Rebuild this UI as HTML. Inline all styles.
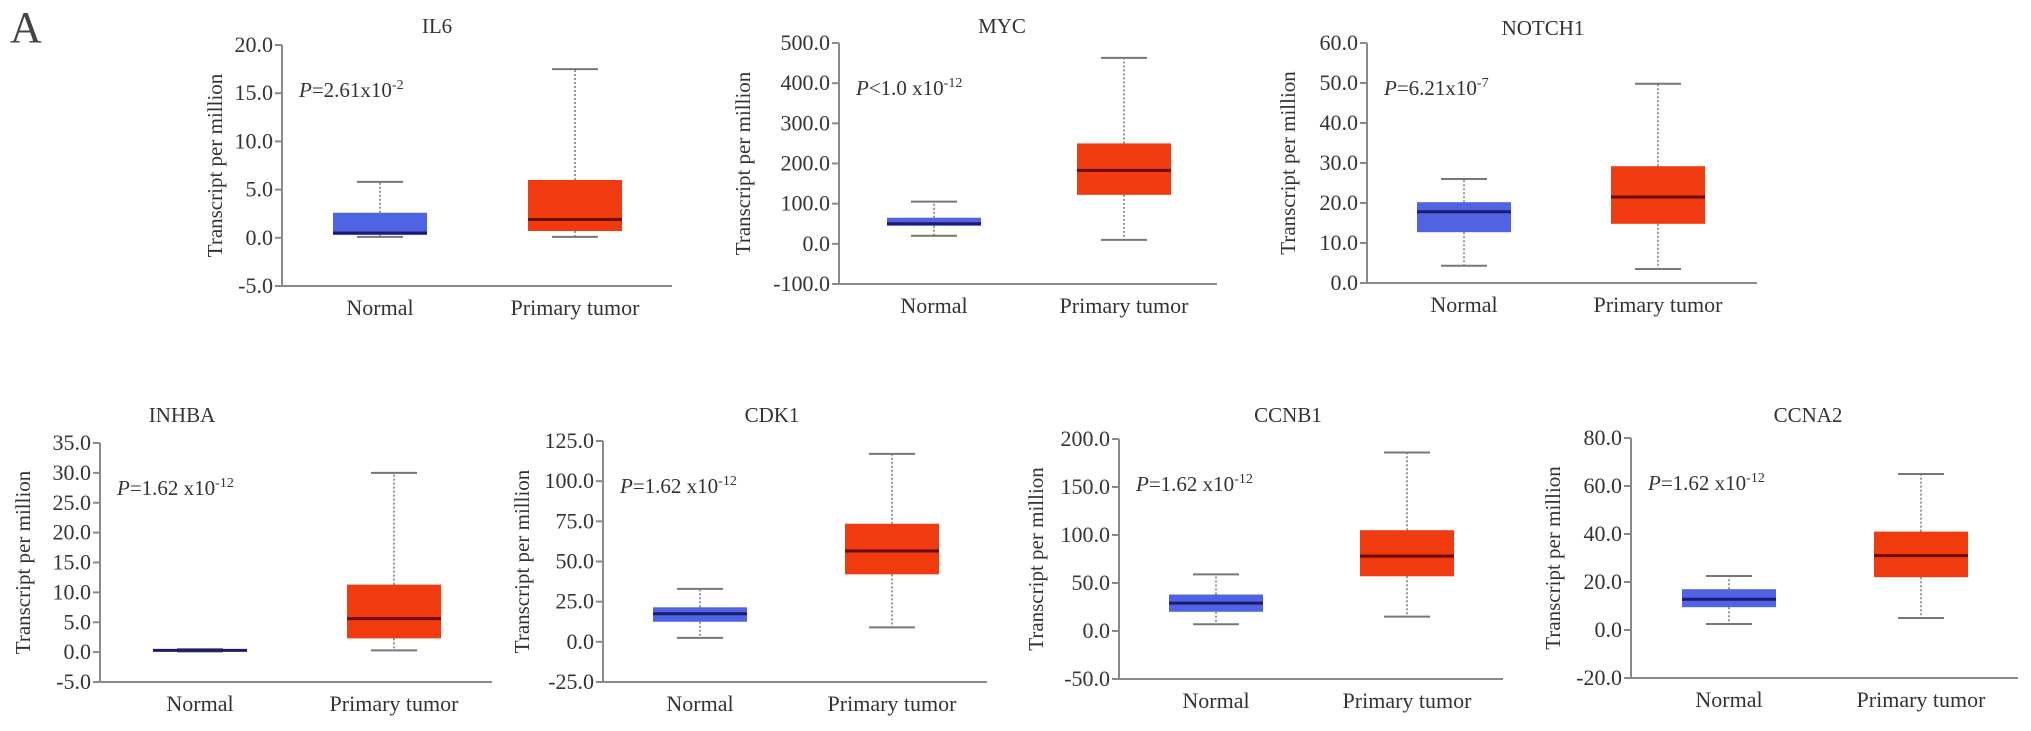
<!DOCTYPE html>
<html><head><meta charset="utf-8"><style>
html,body{margin:0;padding:0;background:#fff;}
svg{display:block;font-family:"Liberation Serif",serif;}
</style></head><body>
<svg id="fig" width="2031" height="731" viewBox="0 0 2031 731" xmlns="http://www.w3.org/2000/svg">
<text x="10" y="42" font-size="44" fill="#444">A</text>
</svg>
<script>
const genes = ["IL6","MYC","NOTCH1","INHBA","CDK1","CCNB1","CCNA2"];
const yMins = [-5,-100,0,-5,-25,-50,-20];
const yMaxs = [20,500,60,35,125,200,80];
const ySteps = [5,100,10,5,25,50,20];
const pBase = ["P=2.61x10","P<1.0 x10","P=6.21x10","P=1.62 x10","P=1.62 x10","P=1.62 x10","P=1.62 x10"];
const pExp = ["-2","-12","-7","-12","-12","-12","-12"];
const categories = ["Normal","Primary tumor"];
// [min, q1, median, q3, max]
const normalStats = [
  [0.1,0.3,0.5,2.6,5.8],
  [20,45,50,65,105],
  [4.3,12.7,17.8,20.2,26],
  [0.1,0.2,0.3,0.5,0.5],
  [2.5,12.5,17.5,21.5,33],
  [7,20,29,38,59],
  [2.5,9.5,12.8,17,22.5]
];
const tumorStats = [
  [0.1,0.7,1.9,6.0,17.5],
  [10,122,183,250,463],
  [3.5,14.8,21.5,29.2,49.8],
  [0.3,2.3,5.6,11.3,30],
  [9,42,56.5,73.5,117],
  [15,57,78,105,186],
  [5,22,31,41,65]
];
// layout: axisX, axisEndX, topY, bottomY, centers, titleX, titleY, ylabelOffset
const layout = [
  {ax:282,ae:672,top:45,bot:286,c:[380,575],tx:437,ty:33,yl:67},
  {ax:839,ae:1217,top:43,bot:284,c:[934,1124],tx:1002,ty:33,yl:96},
  {ax:1367,ae:1757,top:43,bot:283,c:[1464,1658],tx:1543,ty:35,yl:79},
  {ax:100,ae:492,top:443,bot:682,c:[200,394],tx:182,ty:422,yl:77},
  {ax:603,ae:987,top:441,bot:682,c:[700,892],tx:772,ty:422,yl:81},
  {ax:1119,ae:1503,top:439,bot:679,c:[1216,1407],tx:1288,ty:422,yl:83},
  {ax:1631,ae:2018,top:438,bot:678,c:[1729,1921],tx:1808,ty:422,yl:78}
];
const NS="http://www.w3.org/2000/svg";
const svg=document.getElementById('fig');
function mk(tag,attrs,parent){const e=document.createElementNS(NS,tag);for(const k in attrs)e.setAttribute(k,attrs[k]);(parent||svg).appendChild(e);return e;}
genes.forEach((g,i)=>{
  const L=layout[i];
  const grp=mk('g',{});
  
  
  const y=v=>L.bot-(v-yMins[i])/(yMaxs[i]-yMins[i])*(L.bot-L.top);
  const t=mk('text',{x:L.tx,y:L.ty,'font-size':21,'text-anchor':'middle',fill:'#333'},grp);
  t.textContent=g;
  
  
  const ya=mk('line',{x1:L.ax,y1:L.top,x2:L.ax,y2:L.bot,stroke:'#8a8a8a','stroke-width':2},grp);
  
  
  const xa=mk('line',{x1:L.ax,y1:L.bot,x2:L.ae,y2:L.bot,stroke:'#8a8a8a','stroke-width':2},grp);
  
  
  for(let v=yMins[i];v<=yMaxs[i]+1e-9;v+=ySteps[i]){
    const yy=y(v);
    const tk=mk('line',{x1:L.ax-7,y1:yy,x2:L.ax,y2:yy,stroke:'#8a8a8a','stroke-width':2},grp);
    
    
    const tl=mk('text',{x:L.ax-9,y:yy+7,'font-size':22,'text-anchor':'end',fill:'#333'},grp);
    tl.textContent=v.toFixed(1);
    
    
  }
  const yt=mk('text',{x:0,y:0,'font-size':21,'text-anchor':'middle',fill:'#333',transform:`translate(${L.ax-L.yl+7},${(L.top+L.bot)/2}) rotate(-90)`},grp);
  yt.textContent='Transcript per million';
  
  
  const pt=mk('text',{x:L.ax+17,y:L.top+52,'font-size':21,fill:'#333'},grp);
  
  
  const s1=mk('tspan',{'font-style':'italic'},pt); s1.textContent=pBase[i].charAt(0);
  const s2=mk('tspan',{},pt); s2.textContent=pBase[i].slice(1);
  const s3=mk('tspan',{'font-size':14,dy:-8},pt); s3.textContent=pExp[i];
  [normalStats[i],tumorStats[i]].forEach((st,j)=>{
    const cx=L.c[j], bw=94, cw=46;
    const fill=j===0?'#5063e2':'#f03a10';
    const med=j===0?'#1b1b72':'#6b0a00';
    const wu=mk('line',{x1:cx,y1:y(st[3]),x2:cx,y2:y(st[4]),stroke:'#777','stroke-width':1.5,'stroke-dasharray':'2,2'},grp);
    
    
    const wl=mk('line',{x1:cx,y1:y(st[1]),x2:cx,y2:y(st[0]),stroke:'#777','stroke-width':1.5,'stroke-dasharray':'2,2'},grp);
    
    
    const cu=mk('line',{x1:cx-cw/2,y1:y(st[4]),x2:cx+cw/2,y2:y(st[4]),stroke:'#777','stroke-width':2},grp);
    
    
    const cl=mk('line',{x1:cx-cw/2,y1:y(st[0]),x2:cx+cw/2,y2:y(st[0]),stroke:'#777','stroke-width':2},grp);
    
    
    const h=Math.max(y(st[1])-y(st[3]),1.5);
    const bx=mk('rect',{x:cx-bw/2,y:y(st[3]),width:bw,height:h,fill:fill},grp);
    
    
    const ml=mk('line',{x1:cx-bw/2,y1:y(st[2]),x2:cx+bw/2,y2:y(st[2]),stroke:med,'stroke-width':3},grp);
    
    
    const xl=mk('text',{x:cx,y:L.bot+29,'font-size':22,'text-anchor':'middle',fill:'#333'},grp);
    xl.textContent=categories[j];
    
    
  });
});
</script>
</body></html>
